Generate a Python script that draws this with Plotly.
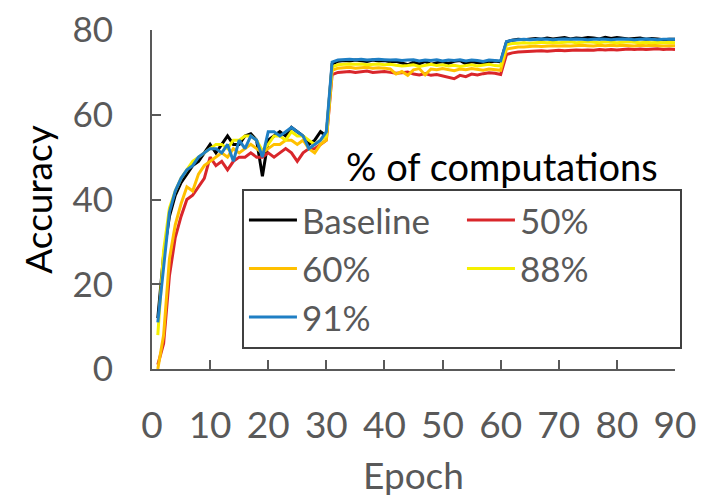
import plotly.graph_objects as go

epochs = list(range(1, 91))

baseline = [12, 27, 36, 41, 44, 46, 48, 49, 51, 53, 51, 53, 55, 53, 53, 55, 55.5, 54, 45.5, 54,
            55, 56, 55, 57, 56, 55, 53, 54, 56, 55,
            72.0, 72.6, 72.8, 72.7, 72.9, 72.8, 72.6, 72.9, 72.7, 72.8, 72.5, 72.6, 72.2, 71.8, 72.4,
            72.0, 72.6, 71.9, 72.3, 72.5, 72.1, 72.6, 72.8, 72.0, 72.5, 72.3, 72.1, 72.4, 72.7, 72.5,
            77.2, 77.6, 77.8, 77.7, 77.9, 78.0, 77.8, 78.1, 77.9, 78.0, 78.2, 77.9, 78.1, 78.0, 78.2,
            78.1, 77.9, 78.3, 78.0, 78.2, 78.1, 77.9, 78.0, 78.1, 77.8, 78.0, 77.9, 77.7, 77.8, 77.8]

p50 = [1, 6, 22, 31, 36, 40, 41, 43, 45, 50, 48, 49, 47, 49, 50, 50, 51, 50, 50, 51,
       50, 51, 52, 51, 49, 51, 52, 52, 53, 54,
       69.5, 70.0, 70.1, 70.2, 70.0, 70.1, 70.3, 70.0, 70.1, 70.2, 70.0, 69.8, 69.9, 70.1, 69.6,
       69.4, 69.7, 69.3, 69.5, 69.2, 68.9, 68.5, 69.3, 69.0, 69.6, 69.4, 69.7, 69.9, 69.8, 69.5,
       74.2, 74.6, 74.8, 74.9, 74.9, 75.0, 75.1, 75.0, 75.1, 75.2, 75.1, 75.2, 75.3, 75.2, 75.3,
       75.2, 75.4, 75.3, 75.4, 75.3, 75.4, 75.5, 75.4, 75.5, 75.4, 75.5, 75.6, 75.4, 75.5, 75.4]

p60 = [0, 8, 26, 34, 39, 43, 42, 46, 48, 49, 50, 51, 50, 52, 51, 52, 53, 52, 51, 52,
       53, 53, 54, 54, 53, 54, 52, 51, 53, 54,
       70.5, 71.0, 71.1, 71.2, 71.0, 71.1, 71.2, 71.0, 71.1, 71.0, 70.8, 69.6, 70.2, 69.3, 70.6,
       70.9, 69.4, 70.8, 70.6, 70.9, 70.7, 70.4, 70.8, 70.6, 70.9, 70.7, 70.5, 70.8, 70.6, 70.5,
       75.5, 75.8, 76.0, 76.0, 76.1, 76.2, 76.1, 76.2, 76.3, 76.2, 76.3, 76.2, 76.3, 76.4, 76.3,
       76.2, 76.4, 76.3, 76.4, 76.3, 76.4, 76.3, 76.2, 76.4, 76.3, 76.4, 76.3, 76.2, 76.3, 76.3]

p88 = [8, 28, 38, 42, 45, 47, 49, 50, 51, 52, 53, 53, 52, 54, 54, 55, 55, 54, 51.5, 53,
       55, 55, 54, 56, 55, 55, 54, 53, 54, 55,
       71.3, 71.8, 71.9, 72.0, 71.9, 72.0, 71.8, 71.9, 72.0, 71.8, 71.9, 71.7, 71.5, 71.6, 71.8,
       71.4, 71.7, 71.9, 71.6, 71.8, 71.5, 71.7, 71.4, 71.6, 71.8, 71.5, 71.7, 71.9, 71.6, 71.5,
       76.5, 76.8, 76.9, 77.0, 76.9, 77.0, 77.1, 77.0, 77.1, 77.0, 77.1, 77.2, 77.0, 77.1, 77.2,
       77.1, 77.0, 77.2, 77.1, 77.0, 77.1, 77.2, 77.1, 77.0, 77.1, 77.0, 77.1, 77.0, 77.1, 77.0]

p91 = [11, 24, 37, 42, 45, 47, 48, 50, 51, 52, 52, 51, 53, 49, 54, 52, 55, 54, 50, 56,
       56, 55, 56, 57, 56, 55, 52, 53, 54, 56,
       72.4, 72.9, 73.0, 73.1, 73.0, 73.1, 72.9, 73.0, 73.1, 73.0, 72.9, 73.0, 72.8, 72.9, 73.0,
       72.7, 72.9, 72.8, 73.0, 72.7, 72.9, 72.8, 73.0, 72.7, 72.9, 72.8, 72.6, 72.9, 72.8, 72.7,
       77.3, 77.6, 77.7, 77.8, 77.7, 77.8, 77.9, 77.8, 77.7, 77.8, 77.9, 77.8, 77.9, 77.8, 77.7,
       77.8, 77.9, 77.8, 77.7, 77.8, 77.9, 77.8, 77.7, 77.8, 77.9, 77.8, 77.7, 77.8, 77.8, 77.8]

series_names = ["Baseline", "50%", "60%", "88%", "91%"]
series_values = [baseline, p50, p60, p88, p91]
series_colors = ["#000000", "#d9262b", "#ffc000", "#f5f000", "#1f7fc4"]

x_ticks = [0, 10, 20, 30, 40, 50, 60, 70, 80, 90]
y_ticks = [0, 20, 40, 60, 80]

FONT = "Lato"
GRAY = "#595959"
FS = 37

fig = go.Figure()
for name, vals, col in zip(series_names, series_values, series_colors):
    fig.add_trace(go.Scatter(x=epochs, y=vals, mode="lines", name=name,
                             line=dict(color=col, width=3)))

fig.update_layout(
    width=721, height=501,
    margin=dict(l=144, r=54, t=22, b=140, autoexpand=False),
    paper_bgcolor="white", plot_bgcolor="white",
    font=dict(family=FONT, size=FS, color=GRAY),
    showlegend=True,
    legend=dict(
        orientation="h",
        x=0.172, xanchor="left",
        y=0.532, yanchor="top",
        bordercolor="#404040", borderwidth=2, bgcolor="white",
        font=dict(family=FONT, size=35, color=GRAY),
        entrywidth=155, entrywidthmode="pixels",
        itemwidth=48,
        tracegroupgap=0,
    ),
    annotations=[dict(text="% of computations", xref="paper", yref="paper",
                      x=0.669, y=0.60, xanchor="center", yanchor="middle",
                      showarrow=False, font=dict(family=FONT, size=38, color="#000000"))],
)

fig.update_xaxes(
    range=[0, 90], tickvals=x_ticks, ticktext=[str(v) for v in x_ticks],
    showgrid=False, zeroline=False, showline=True, linecolor=GRAY, linewidth=2,
    ticks="inside", ticklen=9, tickwidth=2, tickcolor=GRAY,
    ticklabelstandoff=23, automargin=False, ticklabeloverflow="allow",
    tickfont=dict(family=FONT, size=FS, color=GRAY),
    title=dict(text="Epoch", font=dict(family=FONT, size=FS, color=GRAY), standoff=18),
)
fig.update_yaxes(
    range=[0, 80], tickvals=y_ticks, ticktext=[str(v) for v in y_ticks],
    showgrid=False, zeroline=False, showline=True, linecolor=GRAY, linewidth=2,
    ticks="inside", ticklen=9, tickwidth=2, tickcolor=GRAY,
    ticklabelstandoff=30, automargin=False, ticklabeloverflow="allow",
    tickfont=dict(family=FONT, size=35, color=GRAY),
    title=dict(text="Accuracy", font=dict(family=FONT, size=FS, color="#000000"), standoff=8),
)

fig.write_html("out.html")
